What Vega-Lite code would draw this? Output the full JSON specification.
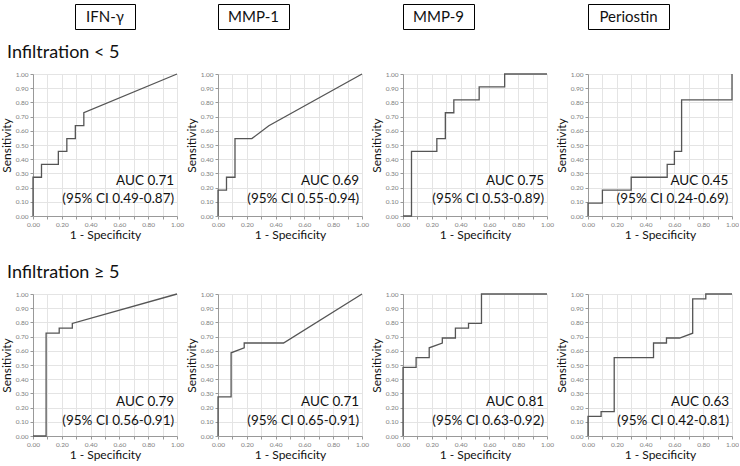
{
  "$schema": "https://vega.github.io/schema/vega-lite/v6.json",
  "padding": {"left": 0, "top": 3, "right": 0, "bottom": 0},
  "background": "white",
  "config": {
    "font": "Lato",
    "view": {"stroke": null},
    "axis": {"labelFontSize": 6.5, "labelColor": "#808080", "titleFontSize": 12, "titleFontWeight": "normal", "titleColor": "#111", "gridColor": "#e4e4e4", "domainColor": "#999", "tickColor": "#999", "tickSize": 3, "labelPadding": 2, "titlePadding": 2, "labelOverlap": false, "labelFlush": false},
    "line": {"color": "#555", "strokeWidth": 1.3},
    "text": {"color": "#111"},
    "title": {"fontSize": 18, "fontWeight": "normal", "color": "#111", "anchor": "start", "frame": "group"}
  },
  "datasets": {
    "roc": [
      {"panel": "p1", "step": 1, "fpr": 0, "tpr": 0},
      {"panel": "p1", "step": 2, "fpr": 0, "tpr": 0.273},
      {"panel": "p1", "step": 3, "fpr": 0.059, "tpr": 0.273},
      {"panel": "p1", "step": 4, "fpr": 0.059, "tpr": 0.364},
      {"panel": "p1", "step": 5, "fpr": 0.176, "tpr": 0.364},
      {"panel": "p1", "step": 6, "fpr": 0.176, "tpr": 0.455},
      {"panel": "p1", "step": 7, "fpr": 0.235, "tpr": 0.455},
      {"panel": "p1", "step": 8, "fpr": 0.235, "tpr": 0.545},
      {"panel": "p1", "step": 9, "fpr": 0.294, "tpr": 0.545},
      {"panel": "p1", "step": 10, "fpr": 0.294, "tpr": 0.636},
      {"panel": "p1", "step": 11, "fpr": 0.353, "tpr": 0.636},
      {"panel": "p1", "step": 12, "fpr": 0.353, "tpr": 0.727},
      {"panel": "p1", "step": 13, "fpr": 1, "tpr": 1},
      {"panel": "p2", "step": 1, "fpr": 0, "tpr": 0},
      {"panel": "p2", "step": 2, "fpr": 0, "tpr": 0.182},
      {"panel": "p2", "step": 3, "fpr": 0.059, "tpr": 0.182},
      {"panel": "p2", "step": 4, "fpr": 0.059, "tpr": 0.273},
      {"panel": "p2", "step": 5, "fpr": 0.118, "tpr": 0.273},
      {"panel": "p2", "step": 6, "fpr": 0.118, "tpr": 0.545},
      {"panel": "p2", "step": 7, "fpr": 0.235, "tpr": 0.545},
      {"panel": "p2", "step": 8, "fpr": 0.353, "tpr": 0.636},
      {"panel": "p2", "step": 9, "fpr": 1, "tpr": 1},
      {"panel": "p3", "step": 1, "fpr": 0, "tpr": 0},
      {"panel": "p3", "step": 2, "fpr": 0.059, "tpr": 0},
      {"panel": "p3", "step": 3, "fpr": 0.059, "tpr": 0.455},
      {"panel": "p3", "step": 4, "fpr": 0.235, "tpr": 0.455},
      {"panel": "p3", "step": 5, "fpr": 0.235, "tpr": 0.545},
      {"panel": "p3", "step": 6, "fpr": 0.294, "tpr": 0.545},
      {"panel": "p3", "step": 7, "fpr": 0.294, "tpr": 0.727},
      {"panel": "p3", "step": 8, "fpr": 0.353, "tpr": 0.727},
      {"panel": "p3", "step": 9, "fpr": 0.353, "tpr": 0.818},
      {"panel": "p3", "step": 10, "fpr": 0.529, "tpr": 0.818},
      {"panel": "p3", "step": 11, "fpr": 0.529, "tpr": 0.909},
      {"panel": "p3", "step": 12, "fpr": 0.706, "tpr": 0.909},
      {"panel": "p3", "step": 13, "fpr": 0.706, "tpr": 1},
      {"panel": "p3", "step": 14, "fpr": 1, "tpr": 1},
      {"panel": "p4", "step": 1, "fpr": 0, "tpr": 0},
      {"panel": "p4", "step": 2, "fpr": 0, "tpr": 0.091},
      {"panel": "p4", "step": 3, "fpr": 0.1, "tpr": 0.091},
      {"panel": "p4", "step": 4, "fpr": 0.1, "tpr": 0.182},
      {"panel": "p4", "step": 5, "fpr": 0.3, "tpr": 0.182},
      {"panel": "p4", "step": 6, "fpr": 0.3, "tpr": 0.273},
      {"panel": "p4", "step": 7, "fpr": 0.55, "tpr": 0.273},
      {"panel": "p4", "step": 8, "fpr": 0.55, "tpr": 0.364},
      {"panel": "p4", "step": 9, "fpr": 0.6, "tpr": 0.364},
      {"panel": "p4", "step": 10, "fpr": 0.6, "tpr": 0.455},
      {"panel": "p4", "step": 11, "fpr": 0.65, "tpr": 0.455},
      {"panel": "p4", "step": 12, "fpr": 0.65, "tpr": 0.818},
      {"panel": "p4", "step": 13, "fpr": 1, "tpr": 0.818},
      {"panel": "p4", "step": 14, "fpr": 1, "tpr": 1},
      {"panel": "p5", "step": 1, "fpr": 0, "tpr": 0},
      {"panel": "p5", "step": 2, "fpr": 0.091, "tpr": 0},
      {"panel": "p5", "step": 3, "fpr": 0.091, "tpr": 0.724},
      {"panel": "p5", "step": 4, "fpr": 0.182, "tpr": 0.724},
      {"panel": "p5", "step": 5, "fpr": 0.182, "tpr": 0.759},
      {"panel": "p5", "step": 6, "fpr": 0.273, "tpr": 0.759},
      {"panel": "p5", "step": 7, "fpr": 0.273, "tpr": 0.793},
      {"panel": "p5", "step": 8, "fpr": 1, "tpr": 1},
      {"panel": "p6", "step": 1, "fpr": 0, "tpr": 0},
      {"panel": "p6", "step": 2, "fpr": 0, "tpr": 0.276},
      {"panel": "p6", "step": 3, "fpr": 0.091, "tpr": 0.276},
      {"panel": "p6", "step": 4, "fpr": 0.091, "tpr": 0.586},
      {"panel": "p6", "step": 5, "fpr": 0.182, "tpr": 0.621},
      {"panel": "p6", "step": 6, "fpr": 0.182, "tpr": 0.655},
      {"panel": "p6", "step": 7, "fpr": 0.455, "tpr": 0.655},
      {"panel": "p6", "step": 8, "fpr": 1, "tpr": 1},
      {"panel": "p7", "step": 1, "fpr": 0, "tpr": 0},
      {"panel": "p7", "step": 2, "fpr": 0, "tpr": 0.483},
      {"panel": "p7", "step": 3, "fpr": 0.091, "tpr": 0.483},
      {"panel": "p7", "step": 4, "fpr": 0.091, "tpr": 0.552},
      {"panel": "p7", "step": 5, "fpr": 0.182, "tpr": 0.552},
      {"panel": "p7", "step": 6, "fpr": 0.182, "tpr": 0.621},
      {"panel": "p7", "step": 7, "fpr": 0.273, "tpr": 0.655},
      {"panel": "p7", "step": 8, "fpr": 0.273, "tpr": 0.690},
      {"panel": "p7", "step": 9, "fpr": 0.364, "tpr": 0.690},
      {"panel": "p7", "step": 10, "fpr": 0.364, "tpr": 0.759},
      {"panel": "p7", "step": 11, "fpr": 0.455, "tpr": 0.759},
      {"panel": "p7", "step": 12, "fpr": 0.455, "tpr": 0.793},
      {"panel": "p7", "step": 13, "fpr": 0.545, "tpr": 0.793},
      {"panel": "p7", "step": 14, "fpr": 0.545, "tpr": 1},
      {"panel": "p7", "step": 15, "fpr": 1, "tpr": 1},
      {"panel": "p8", "step": 1, "fpr": 0, "tpr": 0},
      {"panel": "p8", "step": 2, "fpr": 0, "tpr": 0.138},
      {"panel": "p8", "step": 3, "fpr": 0.091, "tpr": 0.138},
      {"panel": "p8", "step": 4, "fpr": 0.091, "tpr": 0.172},
      {"panel": "p8", "step": 5, "fpr": 0.182, "tpr": 0.172},
      {"panel": "p8", "step": 6, "fpr": 0.182, "tpr": 0.552},
      {"panel": "p8", "step": 7, "fpr": 0.455, "tpr": 0.552},
      {"panel": "p8", "step": 8, "fpr": 0.455, "tpr": 0.655},
      {"panel": "p8", "step": 9, "fpr": 0.545, "tpr": 0.655},
      {"panel": "p8", "step": 10, "fpr": 0.545, "tpr": 0.690},
      {"panel": "p8", "step": 11, "fpr": 0.636, "tpr": 0.690},
      {"panel": "p8", "step": 12, "fpr": 0.727, "tpr": 0.724},
      {"panel": "p8", "step": 13, "fpr": 0.727, "tpr": 0.966},
      {"panel": "p8", "step": 14, "fpr": 0.818, "tpr": 0.966},
      {"panel": "p8", "step": 15, "fpr": 0.818, "tpr": 1},
      {"panel": "p8", "step": 16, "fpr": 1, "tpr": 1}
    ],
    "auc": [
      {"panel": "p1", "auc": "AUC 0.71", "ci": "(95% CI 0.49-0.87)"},
      {"panel": "p2", "auc": "AUC 0.69", "ci": "(95% CI 0.55-0.94)"},
      {"panel": "p3", "auc": "AUC 0.75", "ci": "(95% CI 0.53-0.89)"},
      {"panel": "p4", "auc": "AUC 0.45", "ci": "(95% CI 0.24-0.69)"},
      {"panel": "p5", "auc": "AUC 0.79", "ci": "(95% CI 0.56-0.91)"},
      {"panel": "p6", "auc": "AUC 0.71", "ci": "(95% CI 0.65-0.91)"},
      {"panel": "p7", "auc": "AUC 0.81", "ci": "(95% CI 0.63-0.92)"},
      {"panel": "p8", "auc": "AUC 0.63", "ci": "(95% CI 0.42-0.81)"}
    ],
    "headers": [
      {"col": "c1", "label": "IFN-γ"},
      {"col": "c2", "label": "MMP-1"},
      {"col": "c3", "label": "MMP-9"},
      {"col": "c4", "label": "Periostin"}
    ]
  },
  "spacing": 23,
  "vconcat": [
    {
      "columns": 4,
      "align": "each",
      "bounds": "flush",
      "center": true,
      "spacing": {"row": 45, "column": 41},
      "concat": [
        {"width": 60, "height": 25, "view": {"stroke": "#000", "strokeWidth": 1},
         "data": {"name": "headers"}, "transform": [{"filter": "datum.col == 'c1'"}],
         "mark": {"type": "text", "fontSize": 15, "baseline": "middle", "align": "center"},
         "encoding": {"x": {"datum": 0.5, "scale": {"domain": [0, 1]}, "axis": null}, "y": {"datum": 0.5, "scale": {"domain": [0, 1]}, "axis": null}, "text": {"field": "label"}}},
        {"width": 71, "height": 25, "view": {"stroke": "#000", "strokeWidth": 1},
         "data": {"name": "headers"}, "transform": [{"filter": "datum.col == 'c2'"}],
         "mark": {"type": "text", "fontSize": 15, "baseline": "middle", "align": "center"},
         "encoding": {"x": {"datum": 0.5, "scale": {"domain": [0, 1]}, "axis": null}, "y": {"datum": 0.5, "scale": {"domain": [0, 1]}, "axis": null}, "text": {"field": "label"}}},
        {"width": 71, "height": 25, "view": {"stroke": "#000", "strokeWidth": 1},
         "data": {"name": "headers"}, "transform": [{"filter": "datum.col == 'c3'"}],
         "mark": {"type": "text", "fontSize": 15, "baseline": "middle", "align": "center"},
         "encoding": {"x": {"datum": 0.5, "scale": {"domain": [0, 1]}, "axis": null}, "y": {"datum": 0.5, "scale": {"domain": [0, 1]}, "axis": null}, "text": {"field": "label"}}},
        {"width": 81, "height": 25, "view": {"stroke": "#000", "strokeWidth": 1},
         "data": {"name": "headers"}, "transform": [{"filter": "datum.col == 'c4'"}],
         "mark": {"type": "text", "fontSize": 15, "baseline": "middle", "align": "center"},
         "encoding": {"x": {"datum": 0.5, "scale": {"domain": [0, 1]}, "axis": null}, "y": {"datum": 0.5, "scale": {"domain": [0, 1]}, "axis": null}, "text": {"field": "label"}}},
        {"width": 144, "height": 142,
         "title": {"text": "Infiltration < 5", "dx": -26, "offset": -5, "baseline": "alphabetic"},
         "encoding": {
           "x": {"type": "quantitative", "scale": {"domain": [0, 1], "nice": false}, "axis": {"title": "1 - Specificity", "values": [0, 0.1, 0.2, 0.3, 0.4, 0.5, 0.6, 0.7, 0.8, 0.9, 1], "labelExpr": "round(datum.value*10) % 2 == 0 ? format(datum.value, '.2f') : ''"}},
           "y": {"type": "quantitative", "scale": {"domain": [0, 1], "nice": false}, "axis": {"title": "Sensitivity", "values": [0, 0.1, 0.2, 0.3, 0.4, 0.5, 0.6, 0.7, 0.8, 0.9, 1], "format": ".2f"}}
         },
         "layer": [
           {"data": {"name": "roc"}, "transform": [{"filter": "datum.panel == 'p1'"}], "mark": {"type": "line"},
            "encoding": {"x": {"field": "fpr"}, "y": {"field": "tpr"}, "order": {"field": "step", "type": "quantitative"}}},
           {"data": {"name": "auc"}, "transform": [{"filter": "datum.panel == 'p1'"}], "mark": {"type": "text", "align": "right", "baseline": "alphabetic", "fontSize": 13.5},
            "encoding": {"x": {"datum": 0.98}, "y": {"datum": 0.22}, "text": {"field": "auc"}}},
           {"data": {"name": "auc"}, "transform": [{"filter": "datum.panel == 'p1'"}], "mark": {"type": "text", "align": "right", "baseline": "alphabetic", "fontSize": 13.5},
            "encoding": {"x": {"datum": 0.98}, "y": {"datum": 0.09}, "text": {"field": "ci"}}}
         ]},
        {"width": 144, "height": 142,
         "encoding": {
           "x": {"type": "quantitative", "scale": {"domain": [0, 1], "nice": false}, "axis": {"title": "1 - Specificity", "values": [0, 0.1, 0.2, 0.3, 0.4, 0.5, 0.6, 0.7, 0.8, 0.9, 1], "labelExpr": "round(datum.value*10) % 2 == 0 ? format(datum.value, '.2f') : ''"}},
           "y": {"type": "quantitative", "scale": {"domain": [0, 1], "nice": false}, "axis": {"title": "Sensitivity", "values": [0, 0.1, 0.2, 0.3, 0.4, 0.5, 0.6, 0.7, 0.8, 0.9, 1], "format": ".2f"}}
         },
         "layer": [
           {"data": {"name": "roc"}, "transform": [{"filter": "datum.panel == 'p2'"}], "mark": {"type": "line"},
            "encoding": {"x": {"field": "fpr"}, "y": {"field": "tpr"}, "order": {"field": "step", "type": "quantitative"}}},
           {"data": {"name": "auc"}, "transform": [{"filter": "datum.panel == 'p2'"}], "mark": {"type": "text", "align": "right", "baseline": "alphabetic", "fontSize": 13.5},
            "encoding": {"x": {"datum": 0.98}, "y": {"datum": 0.22}, "text": {"field": "auc"}}},
           {"data": {"name": "auc"}, "transform": [{"filter": "datum.panel == 'p2'"}], "mark": {"type": "text", "align": "right", "baseline": "alphabetic", "fontSize": 13.5},
            "encoding": {"x": {"datum": 0.98}, "y": {"datum": 0.09}, "text": {"field": "ci"}}}
         ]},
        {"width": 144, "height": 142,
         "encoding": {
           "x": {"type": "quantitative", "scale": {"domain": [0, 1], "nice": false}, "axis": {"title": "1 - Specificity", "values": [0, 0.1, 0.2, 0.3, 0.4, 0.5, 0.6, 0.7, 0.8, 0.9, 1], "labelExpr": "round(datum.value*10) % 2 == 0 ? format(datum.value, '.2f') : ''"}},
           "y": {"type": "quantitative", "scale": {"domain": [0, 1], "nice": false}, "axis": {"title": "Sensitivity", "values": [0, 0.1, 0.2, 0.3, 0.4, 0.5, 0.6, 0.7, 0.8, 0.9, 1], "format": ".2f"}}
         },
         "layer": [
           {"data": {"name": "roc"}, "transform": [{"filter": "datum.panel == 'p3'"}], "mark": {"type": "line"},
            "encoding": {"x": {"field": "fpr"}, "y": {"field": "tpr"}, "order": {"field": "step", "type": "quantitative"}}},
           {"data": {"name": "auc"}, "transform": [{"filter": "datum.panel == 'p3'"}], "mark": {"type": "text", "align": "right", "baseline": "alphabetic", "fontSize": 13.5},
            "encoding": {"x": {"datum": 0.98}, "y": {"datum": 0.22}, "text": {"field": "auc"}}},
           {"data": {"name": "auc"}, "transform": [{"filter": "datum.panel == 'p3'"}], "mark": {"type": "text", "align": "right", "baseline": "alphabetic", "fontSize": 13.5},
            "encoding": {"x": {"datum": 0.98}, "y": {"datum": 0.09}, "text": {"field": "ci"}}}
         ]},
        {"width": 144, "height": 142,
         "encoding": {
           "x": {"type": "quantitative", "scale": {"domain": [0, 1], "nice": false}, "axis": {"title": "1 - Specificity", "values": [0, 0.1, 0.2, 0.3, 0.4, 0.5, 0.6, 0.7, 0.8, 0.9, 1], "labelExpr": "round(datum.value*10) % 2 == 0 ? format(datum.value, '.2f') : ''"}},
           "y": {"type": "quantitative", "scale": {"domain": [0, 1], "nice": false}, "axis": {"title": "Sensitivity", "values": [0, 0.1, 0.2, 0.3, 0.4, 0.5, 0.6, 0.7, 0.8, 0.9, 1], "format": ".2f"}}
         },
         "layer": [
           {"data": {"name": "roc"}, "transform": [{"filter": "datum.panel == 'p4'"}], "mark": {"type": "line"},
            "encoding": {"x": {"field": "fpr"}, "y": {"field": "tpr"}, "order": {"field": "step", "type": "quantitative"}}},
           {"data": {"name": "auc"}, "transform": [{"filter": "datum.panel == 'p4'"}], "mark": {"type": "text", "align": "right", "baseline": "alphabetic", "fontSize": 13.5},
            "encoding": {"x": {"datum": 0.975}, "y": {"datum": 0.22}, "text": {"field": "auc"}}},
           {"data": {"name": "auc"}, "transform": [{"filter": "datum.panel == 'p4'"}], "mark": {"type": "text", "align": "right", "baseline": "alphabetic", "fontSize": 13.5},
            "encoding": {"x": {"datum": 0.975}, "y": {"datum": 0.09}, "text": {"field": "ci"}}}
         ]}
      ]
    },
    {
      "bounds": "flush",
      "spacing": 41,
      "hconcat": [
        {"width": 144, "height": 142,
         "title": {"text": "Infiltration ≥ 5", "dx": -26, "offset": -5, "baseline": "alphabetic"},
         "encoding": {
           "x": {"type": "quantitative", "scale": {"domain": [0, 1], "nice": false}, "axis": {"title": "1 - Specificity", "values": [0, 0.1, 0.2, 0.3, 0.4, 0.5, 0.6, 0.7, 0.8, 0.9, 1], "labelExpr": "round(datum.value*10) % 2 == 0 ? format(datum.value, '.2f') : ''"}},
           "y": {"type": "quantitative", "scale": {"domain": [0, 1], "nice": false}, "axis": {"title": "Sensitivity", "values": [0, 0.1, 0.2, 0.3, 0.4, 0.5, 0.6, 0.7, 0.8, 0.9, 1], "format": ".2f"}}
         },
         "layer": [
           {"data": {"name": "roc"}, "transform": [{"filter": "datum.panel == 'p5'"}], "mark": {"type": "line"},
            "encoding": {"x": {"field": "fpr"}, "y": {"field": "tpr"}, "order": {"field": "step", "type": "quantitative"}}},
           {"data": {"name": "auc"}, "transform": [{"filter": "datum.panel == 'p5'"}], "mark": {"type": "text", "align": "right", "baseline": "alphabetic", "fontSize": 13.5},
            "encoding": {"x": {"datum": 0.98}, "y": {"datum": 0.21}, "text": {"field": "auc"}}},
           {"data": {"name": "auc"}, "transform": [{"filter": "datum.panel == 'p5'"}], "mark": {"type": "text", "align": "right", "baseline": "alphabetic", "fontSize": 13.5},
            "encoding": {"x": {"datum": 0.98}, "y": {"datum": 0.075}, "text": {"field": "ci"}}}
         ]},
        {"width": 144, "height": 142,
         "encoding": {
           "x": {"type": "quantitative", "scale": {"domain": [0, 1], "nice": false}, "axis": {"title": "1 - Specificity", "values": [0, 0.1, 0.2, 0.3, 0.4, 0.5, 0.6, 0.7, 0.8, 0.9, 1], "labelExpr": "round(datum.value*10) % 2 == 0 ? format(datum.value, '.2f') : ''"}},
           "y": {"type": "quantitative", "scale": {"domain": [0, 1], "nice": false}, "axis": {"title": "Sensitivity", "values": [0, 0.1, 0.2, 0.3, 0.4, 0.5, 0.6, 0.7, 0.8, 0.9, 1], "format": ".2f"}}
         },
         "layer": [
           {"data": {"name": "roc"}, "transform": [{"filter": "datum.panel == 'p6'"}], "mark": {"type": "line"},
            "encoding": {"x": {"field": "fpr"}, "y": {"field": "tpr"}, "order": {"field": "step", "type": "quantitative"}}},
           {"data": {"name": "auc"}, "transform": [{"filter": "datum.panel == 'p6'"}], "mark": {"type": "text", "align": "right", "baseline": "alphabetic", "fontSize": 13.5},
            "encoding": {"x": {"datum": 0.98}, "y": {"datum": 0.21}, "text": {"field": "auc"}}},
           {"data": {"name": "auc"}, "transform": [{"filter": "datum.panel == 'p6'"}], "mark": {"type": "text", "align": "right", "baseline": "alphabetic", "fontSize": 13.5},
            "encoding": {"x": {"datum": 0.98}, "y": {"datum": 0.075}, "text": {"field": "ci"}}}
         ]},
        {"width": 144, "height": 142,
         "encoding": {
           "x": {"type": "quantitative", "scale": {"domain": [0, 1], "nice": false}, "axis": {"title": "1 - Specificity", "values": [0, 0.1, 0.2, 0.3, 0.4, 0.5, 0.6, 0.7, 0.8, 0.9, 1], "labelExpr": "round(datum.value*10) % 2 == 0 ? format(datum.value, '.2f') : ''"}},
           "y": {"type": "quantitative", "scale": {"domain": [0, 1], "nice": false}, "axis": {"title": "Sensitivity", "values": [0, 0.1, 0.2, 0.3, 0.4, 0.5, 0.6, 0.7, 0.8, 0.9, 1], "format": ".2f"}}
         },
         "layer": [
           {"data": {"name": "roc"}, "transform": [{"filter": "datum.panel == 'p7'"}], "mark": {"type": "line"},
            "encoding": {"x": {"field": "fpr"}, "y": {"field": "tpr"}, "order": {"field": "step", "type": "quantitative"}}},
           {"data": {"name": "auc"}, "transform": [{"filter": "datum.panel == 'p7'"}], "mark": {"type": "text", "align": "right", "baseline": "alphabetic", "fontSize": 13.5},
            "encoding": {"x": {"datum": 0.98}, "y": {"datum": 0.21}, "text": {"field": "auc"}}},
           {"data": {"name": "auc"}, "transform": [{"filter": "datum.panel == 'p7'"}], "mark": {"type": "text", "align": "right", "baseline": "alphabetic", "fontSize": 13.5},
            "encoding": {"x": {"datum": 0.98}, "y": {"datum": 0.075}, "text": {"field": "ci"}}}
         ]},
        {"width": 144, "height": 142,
         "encoding": {
           "x": {"type": "quantitative", "scale": {"domain": [0, 1], "nice": false}, "axis": {"title": "1 - Specificity", "values": [0, 0.1, 0.2, 0.3, 0.4, 0.5, 0.6, 0.7, 0.8, 0.9, 1], "labelExpr": "round(datum.value*10) % 2 == 0 ? format(datum.value, '.2f') : ''"}},
           "y": {"type": "quantitative", "scale": {"domain": [0, 1], "nice": false}, "axis": {"title": "Sensitivity", "values": [0, 0.1, 0.2, 0.3, 0.4, 0.5, 0.6, 0.7, 0.8, 0.9, 1], "format": ".2f"}}
         },
         "layer": [
           {"data": {"name": "roc"}, "transform": [{"filter": "datum.panel == 'p8'"}], "mark": {"type": "line"},
            "encoding": {"x": {"field": "fpr"}, "y": {"field": "tpr"}, "order": {"field": "step", "type": "quantitative"}}},
           {"data": {"name": "auc"}, "transform": [{"filter": "datum.panel == 'p8'"}], "mark": {"type": "text", "align": "right", "baseline": "alphabetic", "fontSize": 13.5},
            "encoding": {"x": {"datum": 0.98}, "y": {"datum": 0.21}, "text": {"field": "auc"}}},
           {"data": {"name": "auc"}, "transform": [{"filter": "datum.panel == 'p8'"}], "mark": {"type": "text", "align": "right", "baseline": "alphabetic", "fontSize": 13.5},
            "encoding": {"x": {"datum": 0.98}, "y": {"datum": 0.075}, "text": {"field": "ci"}}}
         ]}
      ]
    }
  ]
}
